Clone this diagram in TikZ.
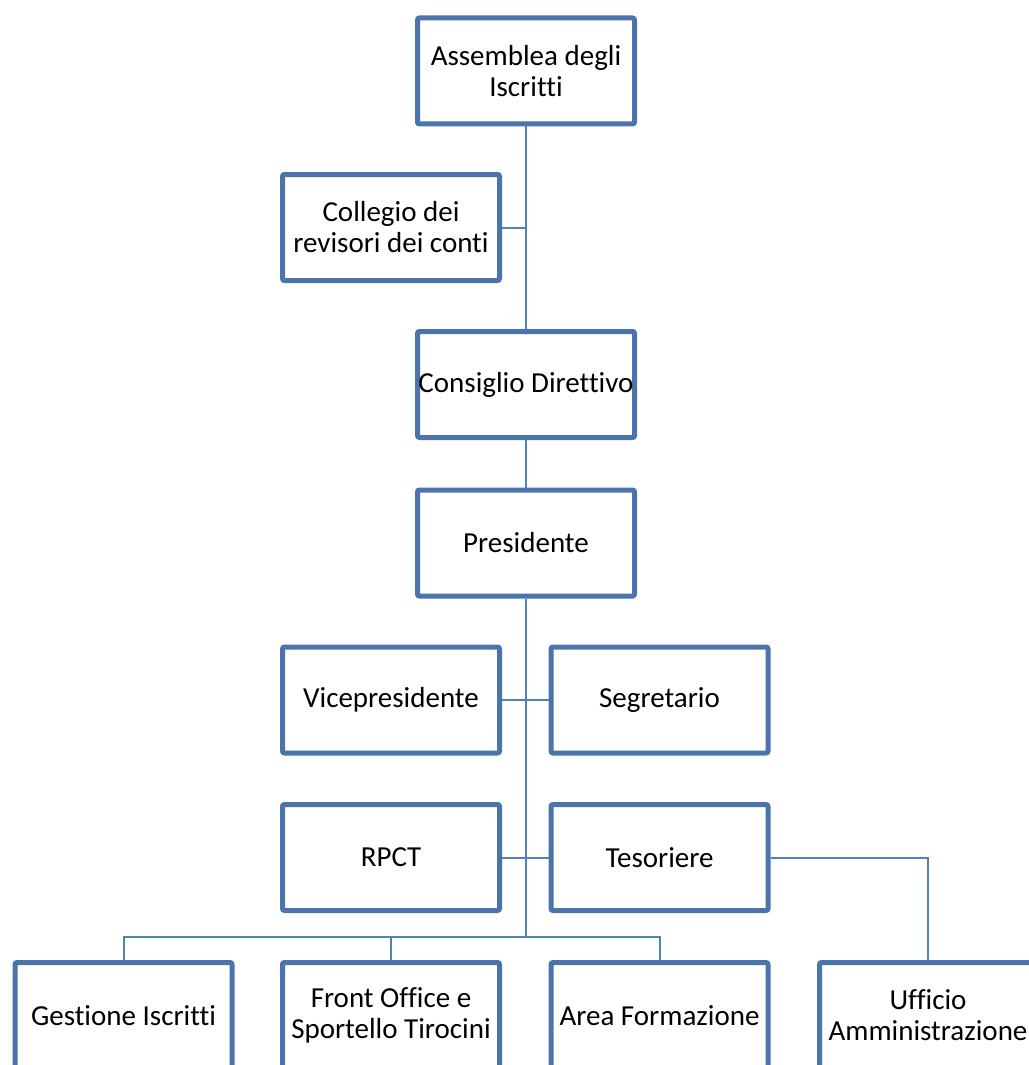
\documentclass[tikz,border=0pt]{standalone}
\usepackage{fontspec}
\setmainfont{Carlito}[Ligatures=CommonOff]
\definecolor{boxblue}{RGB}{74,116,171}
\definecolor{lineblue}{RGB}{79,129,189}

\begin{document}
\begin{tikzpicture}
  [x=0.5pt, y=-0.5pt,
   box/.style={draw=boxblue, line width=2.5pt, rounded corners=1pt, fill=white,
               minimum width=108.5pt, minimum height=53pt, align=center,
               font=\fontsize{14.5}{15.5}\selectfont},
   link/.style={draw=lineblue, line width=1pt}]
  \useasboundingbox (0,0) rectangle (1028,1065);
  \coordinate (bus) at (526,937);
  \node[box] (assemblea) at (526,71) {Assemblea degli\\Iscritti};
  \node[box] (collegio) at (391,227.5) {Collegio dei\\revisori dei conti};
  \node[box] (consiglio) at (526,384.5) {\makebox[0pt]{Consiglio Direttivo}};
  \node[box] (presidente) at (526,543) {Presidente};
  \node[box] (vice) at (391,700) {Vicepresidente};
  \node[box] (segretario) at (659.5,700) {Segretario};
  \node[box] (rpct) at (391,857.5) {RPCT};
  \node[box] (tesoriere) at (659.5,857.5) {Tesoriere};
  \node[box] (gestione) at (123.5,1015.5) {Gestione Iscritti};
  \node[box] (front) at (391,1015.5) {Front Office e\\Sportello Tirocini};
  \node[box] (area) at (659.5,1015.5) {Area Formazione};
  \node[box] (ufficio) at (928,1015.5) {Ufficio\\Amministrazione};
  % connectors
  \draw[link] (assemblea.south) -- (consiglio.north);
  \draw[link] (collegio.east) -- (collegio.east -| assemblea.south);
  \draw[link] (consiglio.south) -- (presidente.north);
  \draw[link] (presidente.south) -- (bus);
  \draw[link] (vice.east) -- (segretario.west);
  \draw[link] (rpct.east) -- (tesoriere.west);
  \draw[link] (gestione.north) |- (area.north |- bus) -- (area.north);
  \draw[link] (front.north) -- (front.north |- bus);
  \draw[link] (tesoriere.east) -| (ufficio.north);
\end{tikzpicture}
\end{document}
